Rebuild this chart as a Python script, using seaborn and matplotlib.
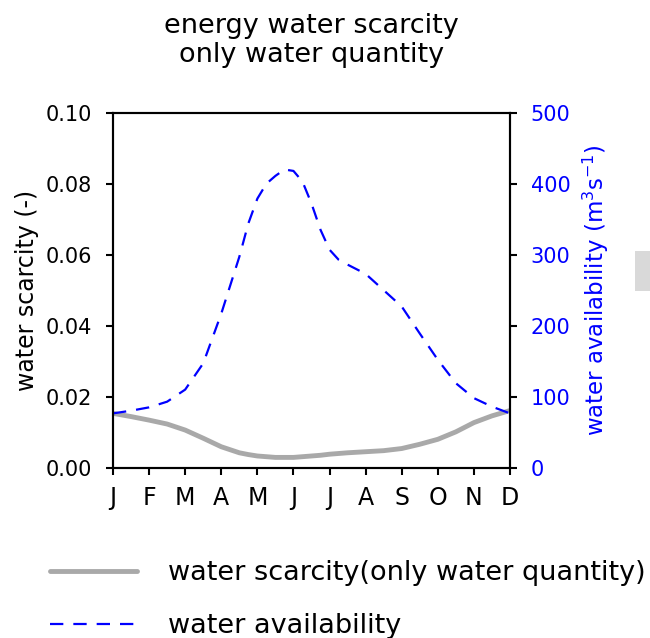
import matplotlib
matplotlib.use('Agg')
import matplotlib.pyplot as plt
import seaborn as sns
import pandas as pd
from matplotlib.patches import Rectangle
from matplotlib.ticker import FormatStrFormatter

# ---- data ----
months = ['J', 'F', 'M', 'A', 'M', 'J', 'J', 'A', 'S', 'O', 'N', 'D']
positions = [0, 0.5, 1, 1.5, 2, 2.5, 3, 3.5, 3.75, 4, 4.25, 4.5, 4.75, 5, 5.25,
             5.5, 5.75, 6, 6.25, 6.5, 7, 7.5, 8, 8.5, 9, 9.5, 10, 10.5, 11]
scarcity = [0.0153, 0.0144, 0.0134, 0.0123, 0.0106, 0.0083, 0.0059, 0.0042,
            0.0037, 0.0033, 0.0031, 0.0029, 0.0029, 0.0029, 0.0031, 0.0033,
            0.0035, 0.0038, 0.0040, 0.0042, 0.0045, 0.0048, 0.0054, 0.0066,
            0.0080, 0.0101, 0.0127, 0.0146, 0.0161]
availability = [76.5, 80.3, 85, 93, 110, 147, 217, 297, 344, 379, 400, 411,
                420, 418, 403, 372, 335, 307, 293, 286, 273, 250, 227, 189,
                152, 119, 98, 86, 76.5]
scarcity_ticks = [0.00, 0.02, 0.04, 0.06, 0.08, 0.10]
availability_ticks = [0, 100, 200, 300, 400, 500]

title_lines = ['energy water scarcity', 'only water quantity']
legend_labels = ['water scarcity(only water quantity)', 'water availability']

sns.set_style('ticks')
plt.rcParams['font.family'] = ['DejaVu Sans']
for k in ('text.color', 'axes.labelcolor', 'xtick.color', 'ytick.color', 'axes.edgecolor'):
    plt.rcParams[k] = 'black'

W, H = 650, 638
fig = plt.figure(figsize=(6.5, 6.38), dpi=100)
ax = fig.add_axes([113 / W, 1 - 467.7 / H, (510 - 113) / W, (467.7 - 112.7) / H])

df = pd.DataFrame({'pos': positions, 'scarcity': scarcity, 'availability': availability})

gray = '#a9a9a9'
blue = '#0000ff'

sns.lineplot(data=df, x='pos', y='scarcity', ax=ax, color=gray, lw=3.5,
             solid_capstyle='round')
ax2 = ax.twinx()
sns.lineplot(data=df, x='pos', y='availability', ax=ax2, color=blue, lw=1.6,
             linestyle=(0, (6, 4.5)))

ax.set_xlim(0, 11)
ax.set_ylim(0, 0.1)
ax2.set_ylim(0, 500)
ax.set_xticks(range(len(months)))
ax.set_xticklabels(months)
ax.set_yticks(scarcity_ticks)
ax.yaxis.set_major_formatter(FormatStrFormatter('%.2f'))
ax2.set_yticks(availability_ticks)

ax.set_xlabel('')
ax.set_ylabel('water scarcity (-)', fontsize=17, labelpad=5)
ax2.set_ylabel(r'water availability (m$^{3}$s$^{-1}$)', fontsize=16.5,
               color=blue, labelpad=7)

ax.tick_params(axis='y', direction='out', length=5, width=1.5, labelsize=15, pad=10)
ax.tick_params(axis='x', direction='out', length=5, width=1.5, labelsize=17, pad=8)
ax2.tick_params(axis='y', direction='out', length=5, width=1.5, labelsize=15,
                pad=10, labelcolor=blue)

for a in (ax, ax2):
    for s in a.spines.values():
        s.set_visible(True)
        s.set_linewidth(1.5)
        s.set_color('black')

fig.text(311.5 / W, 1 - 33 / H, title_lines[0], ha='center', va='baseline', fontsize=19.5)
fig.text(311.5 / W, 1 - 61.5 / H, title_lines[1], ha='center', va='baseline', fontsize=19.5)

# small gray block at right edge
fig.add_artist(Rectangle((635 / W, 1 - 291 / H), 15 / W, 40 / H,
                         transform=fig.transFigure, color='#d9d9d9', lw=0))

handles = [ax.lines[0], ax2.lines[0]]
fig.legend(handles=handles, labels=legend_labels, loc='upper left',
           bbox_to_anchor=(50 / W, 1 - 560 / H), frameon=False, fontsize=19.5,
           handlelength=3.2, handletextpad=1.15, labelspacing=1.0,
           borderpad=0, borderaxespad=0)

fig.savefig('out.png', dpi=100)
